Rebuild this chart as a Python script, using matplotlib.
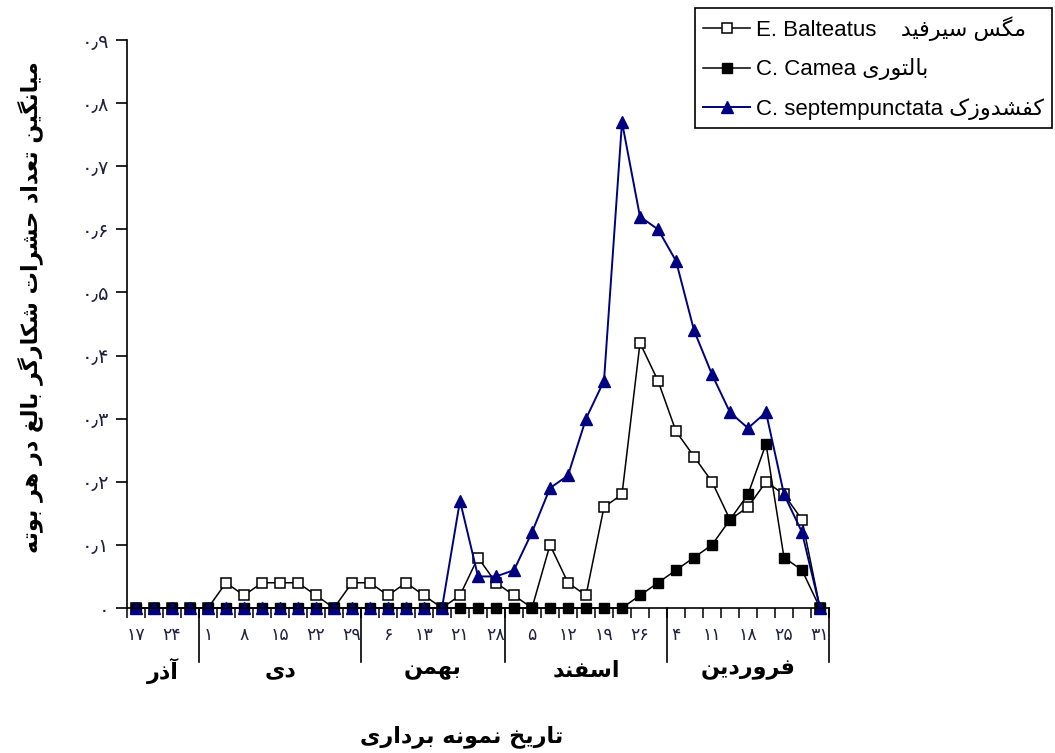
import numpy as np
import matplotlib.pyplot as plt
from matplotlib.transforms import blended_transform_factory

# presentation forms: isolated, final, initial, medial
FORMS = {
    'ا': ('\uFE8D', '\uFE8E', None, None),
    'آ': ('\uFE81', '\uFE82', None, None),
    'ب': ('\uFE8F', '\uFE90', '\uFE91', '\uFE92'),
    'ت': ('\uFE95', '\uFE96', '\uFE97', '\uFE98'),
    'ح': ('\uFEA1', '\uFEA2', '\uFEA3', '\uFEA4'),
    'خ': ('\uFEA5', '\uFEA6', '\uFEA7', '\uFEA8'),
    'د': ('\uFEA9', '\uFEAA', None, None),
    'ذ': ('\uFEAB', '\uFEAC', None, None),
    'ر': ('\uFEAD', '\uFEAE', None, None),
    'ز': ('\uFEAF', '\uFEB0', None, None),
    'س': ('\uFEB1', '\uFEB2', '\uFEB3', '\uFEB4'),
    'ش': ('\uFEB5', '\uFEB6', '\uFEB7', '\uFEB8'),
    'ع': ('\uFEC9', '\uFECA', '\uFECB', '\uFECC'),
    'غ': ('\uFECD', '\uFECE', '\uFECF', '\uFED0'),
    'ف': ('\uFED1', '\uFED2', '\uFED3', '\uFED4'),
    'ل': ('\uFEDD', '\uFEDE', '\uFEDF', '\uFEE0'),
    'م': ('\uFEE1', '\uFEE2', '\uFEE3', '\uFEE4'),
    'ن': ('\uFEE5', '\uFEE6', '\uFEE7', '\uFEE8'),
    'ه': ('\uFEE9', '\uFEEA', '\uFEEB', '\uFEEC'),
    'و': ('\uFEED', '\uFEEE', None, None),
    'ک': ('\uFB8E', '\uFB8F', '\uFB90', '\uFB91'),
    'گ': ('\uFB92', '\uFB93', '\uFB94', '\uFB95'),
    'ی': ('\uFBFC', '\uFBFD', '\uFBFE', '\uFBFF'),
}


def fa(s):
    # join letters and put them in visual order
    out = []
    for i, c in enumerate(s):
        if c not in FORMS:
            out.append(c)
            continue
        prev = s[i - 1] if i > 0 else ''
        nxt = s[i + 1] if i + 1 < len(s) else ''
        jp = prev in FORMS and FORMS[prev][2] is not None
        jn = FORMS[c][2] is not None and nxt in FORMS
        iso, fin, ini, med = FORMS[c]
        if jp and jn:
            out.append(med)
        elif jp:
            out.append(fin)
        elif jn:
            out.append(ini)
        else:
            out.append(iso)
    return ''.join(reversed(out))


# data
day_labels = ['۱۷', '', '۲۴', '',
              '۱', '', '۸', '', '۱۵', '', '۲۲', '', '۲۹',
              '', '۶', '', '۱۳', '', '۲۱', '', '۲۸',
              '', '۵', '', '۱۲', '', '۱۹', '', '۲۶', '',
              '۴', '', '۱۱', '', '۱۸', '', '۲۵', '', '۳۱']
months = ['آذر', 'دی', 'بهمن', 'اسفند', 'فروردین']
month_sizes = [4, 9, 8, 9, 9]

balteatus = [0, 0, 0, 0, 0, 0.04, 0.02, 0.04, 0.04, 0.04,
             0.02, 0, 0.04, 0.04, 0.02, 0.04, 0.02, 0, 0.02, 0.08,
             0.04, 0.02, 0, 0.10, 0.04, 0.02, 0.16, 0.18, 0.42, 0.36,
             0.28, 0.24, 0.20, 0.14, 0.16, 0.20, 0.18, 0.14, 0]
camea = [0, 0, 0, 0, 0, 0, 0, 0, 0, 0,
         0, 0, 0, 0, 0, 0, 0, 0, 0, 0,
         0, 0, 0, 0, 0, 0, 0, 0, 0.02, 0.04,
         0.06, 0.08, 0.10, 0.14, 0.18, 0.26, 0.08, 0.06, 0]
septem = [0, 0, 0, 0, 0, 0, 0, 0, 0, 0,
          0, 0, 0, 0, 0, 0, 0, 0, 0.17, 0.05,
          0.05, 0.06, 0.12, 0.19, 0.21, 0.30, 0.36, 0.77, 0.62, 0.60,
          0.55, 0.44, 0.37, 0.31, 0.285, 0.31, 0.18, 0.12, 0]

y_ticks = [0, 0.1, 0.2, 0.3, 0.4, 0.5, 0.6, 0.7, 0.8, 0.9]
y_labels = ['۰', '۰٫۱', '۰٫۲', '۰٫۳', '۰٫۴', '۰٫۵', '۰٫۶', '۰٫۷', '۰٫۸', '۰٫۹']

names = ['E. Balteatus    ' + fa('مگس سیرفید'),
         'C. Camea ' + fa('بالتوری'),
         'C. septempunctata ' + fa('کفشدوزک')]

plt.rcParams['font.family'] = ['DejaVu Sans']
W, H = 1055, 753
fig = plt.figure(figsize=(W / 100, H / 100), dpi=100)
x0, x1, yb, yt = 127, 829, 608, 40
ax = fig.add_axes([x0 / W, 1 - yb / H, (x1 - x0) / W, (yb - yt) / H])

x = np.arange(len(balteatus))
ax.plot(x, balteatus, '-', color='black', lw=1.1, marker='s', ms=6.5,
        mfc='white', mec='black', mew=1.1, label=names[0], clip_on=False)
ax.plot(x, camea, '-', color='black', lw=1.1, marker='s', ms=6.5,
        mfc='black', mec='black', label=names[1], clip_on=False)
ax.plot(x, septem, '-', color='#000080', lw=1.4, marker='^', ms=8,
        mfc='#000080', mec='#000080', label=names[2], clip_on=False)

ax.set_xlim(-0.5, len(x) - 0.5)
ax.set_ylim(0, 0.9)
for s in ['top', 'right']:
    ax.spines[s].set_visible(False)
for s in ['left', 'bottom']:
    ax.spines[s].set_linewidth(1.2)

ax.set_yticks(y_ticks)
ax.set_yticklabels(y_labels, fontsize=14, color='#202040')
ax.tick_params(axis='y', length=8, width=1.2, pad=5)

ax.set_xticks(x)
ax.set_xticklabels(day_labels, fontsize=12.5, color='#202040')
ax.tick_params(axis='x', which='major', length=0, pad=13)
ax.set_xticks(np.arange(-0.5, len(x), 1), minor=True)
ax.tick_params(axis='x', which='minor', length=7, width=1.1)

tr = blended_transform_factory(ax.transData, ax.transAxes)
edges = np.cumsum([0] + month_sizes) - 0.5
for e in edges[1:]:
    ax.plot([e, e], [0, -0.095], color='black', lw=1.2, transform=tr, clip_on=False)
for i, m in enumerate(months):
    c = (edges[i] + edges[i + 1]) / 2
    ax.text(c, -0.11, fa(m), transform=tr, ha='center', va='center',
            fontsize=16, fontweight='bold')

fig.text(462 / W, 1 - 737 / H, fa('تاریخ نمونه برداری'), ha='center', va='center',
         fontsize=16, fontweight='bold')
fig.text(30 / W, 1 - 307 / H, fa('میانگین تعداد حشرات شکارگر بالغ در هر بوته'),
         rotation=90, ha='center', va='center', fontsize=16, fontweight='bold')

leg = fig.legend(loc='upper right', bbox_to_anchor=(1052 / W, 1 - 8 / H),
                 borderaxespad=0, fancybox=False, edgecolor='black',
                 framealpha=1, handlelength=2.1, handletextpad=0.25,
                 labelspacing=0.78, borderpad=0.38,
                 prop={'family': ['Liberation Sans', 'DejaVu Sans'], 'size': 16})
leg.get_frame().set_linewidth(1.2)

fig.savefig('out.png', dpi=100)
